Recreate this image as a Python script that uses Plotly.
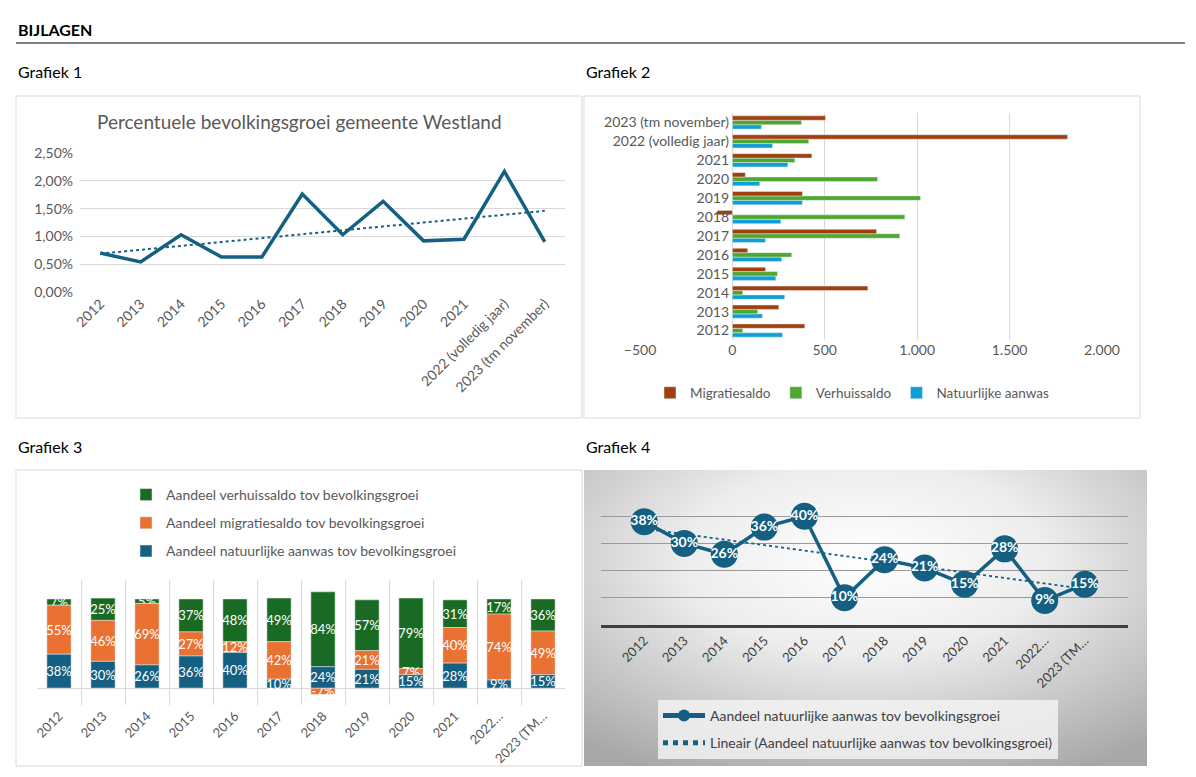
import base64
import numpy as np
import plotly.graph_objects as go

W, H = 1196, 777
def px(x): return x / W
def py(y): return 1 - y / H

FONT = "Lato"
GRAY = "#595959"

# ---------------- data ----------------
years = ["2012", "2013", "2014", "2015", "2016", "2017", "2018", "2019", "2020", "2021",
         "2022 (volledig jaar)", "2023 (tm november)"]
short_labels = ["2012", "2013", "2014", "2015", "2016", "2017", "2018", "2019", "2020", "2021",
                "2022…", "2023 (TM…"]

# Grafiek 1: percentuele bevolkingsgroei (%)
growth_pct = [0.70, 0.54, 1.03, 0.63, 0.63, 1.76, 1.03, 1.63, 0.92, 0.95, 2.17, 0.90]

# Grafiek 2: absolute components
migratiesaldo = [392, 251, 733, 179, 83, 780, -83, 379, 70, 430, 1814, 504]
verhuissaldo = [56, 137, 56, 244, 321, 906, 933, 1018, 785, 338, 413, 374]
natuurlijke_aanwas = [271, 162, 283, 235, 267, 179, 262, 379, 148, 300, 217, 157]

# Grafiek 3: shares (%)
share_nat = [38, 30, 26, 36, 40, 10, 24, 21, 15, 28, 9, 15]
share_migr = [55, 46, 69, 27, 12, 42, -7, 21, 7, 40, 74, 49]
share_verh = [7, 25, 5, 37, 48, 49, 84, 57, 79, 31, 17, 36]

C_DARK = "#156082"
C_ORANGE = "#E97132"
C_GREEN = "#196B24"
C_BROWN = "#A0400F"
C_LGREEN = "#4EA72E"
C_LBLUE = "#0F9ED5"

fig = go.Figure()

# ---------------- Grafiek 1 ----------------
idx = np.arange(len(years))
g = np.array(growth_pct) / 100
coef = np.polyfit(idx, g, 1)
trend1 = np.polyval(coef, idx)
fig.add_trace(go.Scatter(x=years, y=g, mode="lines", line=dict(color=C_DARK, width=3.5),
                         xaxis="x", yaxis="y", showlegend=False, hoverinfo="skip"))
fig.add_trace(go.Scatter(x=years, y=trend1, mode="lines", line=dict(color=C_DARK, width=2, dash="dot"),
                         xaxis="x", yaxis="y", showlegend=False, hoverinfo="skip"))

# ---------------- Grafiek 2 ----------------
for name, vals, col in [("Natuurlijke aanwas", natuurlijke_aanwas, C_LBLUE),
                        ("Verhuissaldo", verhuissaldo, C_LGREEN),
                        ("Migratiesaldo", migratiesaldo, C_BROWN)]:
    fig.add_trace(go.Bar(y=years, x=vals, orientation="h", name=name, marker_color=col,
                         xaxis="x2", yaxis="y2", legend="legend2"))

# ---------------- Grafiek 3 ----------------
sn = np.array(share_nat) / 100
sm = np.array(share_migr) / 100
sv = np.array(share_verh) / 100
base_m = np.where(sm >= 0, sn, 0)
base_v = sn + np.clip(sm, 0, None)
for name, vals, base, lab, col in [
        ("Aandeel verhuissaldo tov bevolkingsgroei", sv, base_v, share_verh, C_GREEN),
        ("Aandeel migratiesaldo tov bevolkingsgroei", sm, base_m, share_migr, C_ORANGE),
        ("Aandeel natuurlijke aanwas tov bevolkingsgroei", sn, np.zeros_like(sn), share_nat, C_DARK)]:
    fig.add_trace(go.Bar(x=years, y=vals, base=base, name=name, marker_color=col,
                         offsetgroup="stack3", width=0.55,
                         text=[f"{v}%" for v in lab], textposition="inside",
                         insidetextanchor="middle", textangle=0,
                         textfont=dict(color="white", size=13, family=FONT),
                         xaxis="x3", yaxis="y3", legend="legend", legendgroup=name))

# ---------------- Grafiek 4 ----------------
coef4 = np.polyfit(idx, sn, 1)
trend4 = np.polyval(coef4, idx)
fig.add_trace(go.Scatter(x=years, y=sn, mode="lines+markers",
                         name="Aandeel natuurlijke aanwas tov bevolkingsgroei",
                         line=dict(color=C_DARK, width=3.5),
                         marker=dict(size=27, color=C_DARK),
                         cliponaxis=False, xaxis="x4", yaxis="y4", legend="legend3",
                         legendgroup="a"))
fig.add_trace(go.Scatter(x=years, y=trend4, mode="lines",
                         name="Lineair (Aandeel natuurlijke aanwas tov bevolkingsgroei)",
                         line=dict(color=C_DARK, width=1.8, dash="dot"),
                         xaxis="x4", yaxis="y4", legend="legend3", legendgroup="b"))
fig.add_trace(go.Scatter(x=years, y=sn, mode="text", text=[f"{v}%" for v in share_nat],
                         textposition="middle center",
                         textfont=dict(color="white", size=14, family=FONT, weight="bold"),
                         cliponaxis=False, xaxis="x4", yaxis="y4", showlegend=False,
                         hoverinfo="skip"))

# ---------------- background gradient for Grafiek 4 ----------------
bw, bh = 563, 296
svg = (f'<svg xmlns="http://www.w3.org/2000/svg" width="{bw}" height="{bh}" viewBox="0 0 {bw} {bh}" '
       f'preserveAspectRatio="none"><defs><radialGradient id="g" cx="0.5" cy="0.3" r="0.8">'
       f'<stop offset="0" stop-color="#ffffff"/><stop offset="0.4" stop-color="#ededed"/>'
       f'<stop offset="1" stop-color="#a8a8a8"/></radialGradient></defs>'
       f'<rect width="{bw}" height="{bh}" fill="url(#g)"/></svg>')
svg_uri = "data:image/svg+xml;base64," + base64.b64encode(svg.encode()).decode()

tick_font = dict(family=FONT, size=14, color=GRAY)

fig.update_layout(
    width=W, height=H, margin=dict(l=0, r=0, t=0, b=0, autoexpand=False),
    paper_bgcolor="white", plot_bgcolor="rgba(0,0,0,0)",
    separators=",.", font=dict(family=FONT, color=GRAY),
    barmode="group", bargap=0.3, bargroupgap=0,
    uniformtext=dict(minsize=13, mode="show"),
    images=[dict(source=svg_uri, xref="paper", yref="paper", x=px(584), y=py(470),
                 sizex=px(1147) - px(584), sizey=296 / H, sizing="stretch",
                 xanchor="left", yanchor="top", layer="below")],
    # Grafiek 1
    xaxis=dict(domain=[px(80), px(565)], anchor="y", range=[-0.5, 11.5], tickangle=-45,
               tickfont=tick_font, showgrid=False, ticks="", showline=False),
    yaxis=dict(domain=[py(292), py(153)], anchor="x", range=[0, 0.025], dtick=0.005,
               tickformat=".2%", tickfont=tick_font, gridcolor="#d9d9d9", zeroline=False,
               ticklabelstandoff=6),
    # Grafiek 2
    xaxis2=dict(domain=[px(640), px(1102)], anchor="y2", range=[-500, 2000], dtick=500,
                tickformat=",", tickfont=tick_font, gridcolor="#d9d9d9", zeroline=False),
    yaxis2=dict(domain=[py(340), py(113)], anchor="free", position=px(733),
                tickfont=tick_font, showgrid=False, ticklabelstandoff=4),
    # Grafiek 3
    xaxis3=dict(domain=[px(37), px(565)], anchor="y3", tickangle=-45,
                tickfont=dict(family=FONT, size=13, color=GRAY),
                tickmode="array", tickvals=years, ticktext=short_labels,
                showgrid=True, gridcolor="#d9d9d9", tickson="boundaries", ticks=""),
    yaxis3=dict(domain=[py(705), py(580)], anchor="x3", range=[-0.19, 1.213],
                showgrid=False, showticklabels=False, zeroline=True,
                zerolinecolor="#d9d9d9", zerolinewidth=1),
    # Grafiek 4
    xaxis4=dict(domain=[px(601), px(1128)], anchor="y4", tickangle=-45,
                tickfont=dict(family=FONT, size=13, color="#404040"),
                tickmode="array", tickvals=years, ticktext=short_labels,
                showgrid=False, showline=True, linecolor="#404040", linewidth=3, ticks=""),
    yaxis4=dict(domain=[py(625), py(489)], anchor="x4", range=[0, 0.5], dtick=0.1,
                showticklabels=False, gridcolor="#9a9a9a", zeroline=False),
    legend=dict(x=px(126), y=py(479), xanchor="left", yanchor="top",
                traceorder="grouped", tracegroupgap=7,
                font=dict(family=FONT, size=14, color=GRAY), bgcolor="rgba(0,0,0,0)"),
    legend2=dict(orientation="h", x=px(650), y=py(393), xanchor="left", yanchor="middle",
                 traceorder="reversed",
                 font=dict(family=FONT, size=13.5, color=GRAY), bgcolor="rgba(0,0,0,0)"),
    legend3=dict(x=px(658), y=py(700), xanchor="left", yanchor="top",
                 traceorder="grouped", tracegroupgap=6, itemwidth=42, itemsizing="constant",
                 font=dict(family=FONT, size=14, color="#404040"),
                 bgcolor="rgba(245,245,245,0.8)"),
)

# boxes and header
shapes = [
    dict(type="line", xref="paper", yref="paper", x0=px(16), x1=px(1185), y0=py(43), y1=py(43),
         line=dict(color="black", width=1)),
    dict(type="rect", xref="paper", yref="paper", x0=px(16), x1=px(582), y0=py(418), y1=py(96),
         line=dict(color="#d9d9d9", width=1), layer="below"),
    dict(type="rect", xref="paper", yref="paper", x0=px(584), x1=px(1140), y0=py(418), y1=py(96),
         line=dict(color="#d9d9d9", width=1), layer="below"),
    dict(type="rect", xref="paper", yref="paper", x0=px(16), x1=px(582), y0=py(766), y1=py(470),
         line=dict(color="#d9d9d9", width=1), layer="below"),
]
fig.update_layout(shapes=shapes)

annots = [
    dict(text="<b>BIJLAGEN</b>", x=px(16), y=py(29), font=dict(size=16, color="black")),
    dict(text="Grafiek 1", x=px(16), y=py(71), font=dict(size=16, color="black")),
    dict(text="Grafiek 2", x=px(584), y=py(71), font=dict(size=16, color="black")),
    dict(text="Grafiek 3", x=px(16), y=py(446), font=dict(size=16, color="black")),
    dict(text="Grafiek 4", x=px(584), y=py(446), font=dict(size=16, color="black")),
]
for a in annots:
    fig.add_annotation(xref="paper", yref="paper", xanchor="left", yanchor="middle",
                       showarrow=False, text=a["text"], x=a["x"], y=a["y"],
                       font=dict(family=FONT, **a["font"]))
fig.add_annotation(xref="paper", yref="paper", xanchor="center", yanchor="middle",
                   showarrow=False, text="Percentuele bevolkingsgroei gemeente Westland",
                   x=px(299), y=py(122), font=dict(family=FONT, size=19, color=GRAY))

fig.write_html("out.html", config={"displayModeBar": False},
               post_script="document.body.style.margin='0px';")
